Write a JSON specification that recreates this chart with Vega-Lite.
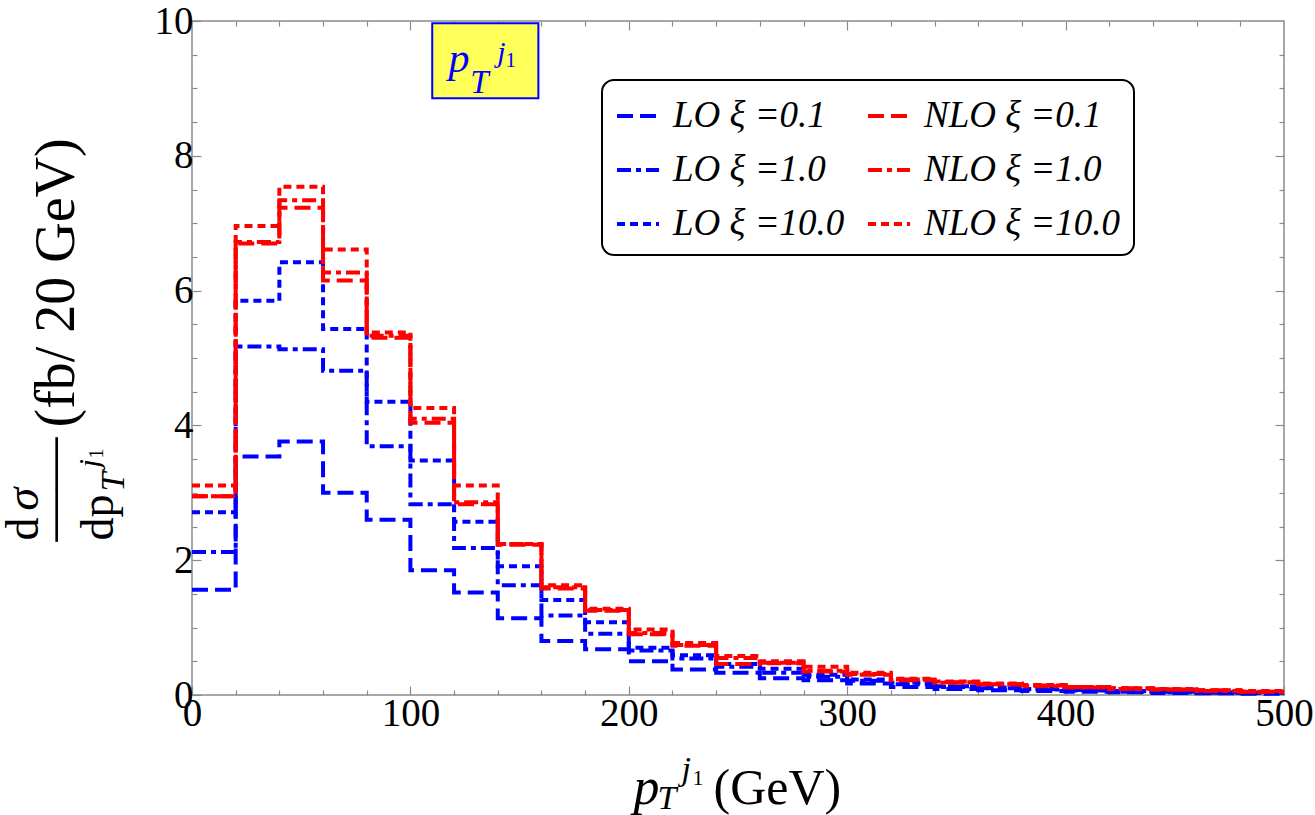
{
  "$schema": "https://vega.github.io/schema/vega-lite/v6.json",
  "autosize": {"type": "none"},
  "width": 1092,
  "height": 674,
  "padding": {"left": 192, "top": 21, "right": 31, "bottom": 120},
  "background": "white",
  "config": {
    "view": {"stroke": "#8a8a8a", "strokeWidth": 1.5},
    "legend": {"strokeWidth": 2},
    "axis": {"grid": false, "domain": false, "tickColor": "#8a8a8a", "tickWidth": 1.2, "labelFont": "Liberation Serif", "labelColor": "black", "titleFont": "Liberation Serif", "titleColor": "black"}
  },
  "data": {
    "values": [
      {"s": "LO ξ =0.1", "x0": 0, "x1": 20, "v": 1.56},
      {"s": "LO ξ =0.1", "x0": 20, "x1": 40, "v": 3.54},
      {"s": "LO ξ =0.1", "x0": 40, "x1": 60, "v": 3.76},
      {"s": "LO ξ =0.1", "x0": 60, "x1": 80, "v": 3.0},
      {"s": "LO ξ =0.1", "x0": 80, "x1": 100, "v": 2.6},
      {"s": "LO ξ =0.1", "x0": 100, "x1": 120, "v": 1.85},
      {"s": "LO ξ =0.1", "x0": 120, "x1": 140, "v": 1.52},
      {"s": "LO ξ =0.1", "x0": 140, "x1": 160, "v": 1.14},
      {"s": "LO ξ =0.1", "x0": 160, "x1": 180, "v": 0.8},
      {"s": "LO ξ =0.1", "x0": 180, "x1": 200, "v": 0.68},
      {"s": "LO ξ =0.1", "x0": 200, "x1": 220, "v": 0.5},
      {"s": "LO ξ =0.1", "x0": 220, "x1": 240, "v": 0.38},
      {"s": "LO ξ =0.1", "x0": 240, "x1": 260, "v": 0.33},
      {"s": "LO ξ =0.1", "x0": 260, "x1": 280, "v": 0.25},
      {"s": "LO ξ =0.1", "x0": 280, "x1": 300, "v": 0.22},
      {"s": "LO ξ =0.1", "x0": 300, "x1": 320, "v": 0.17},
      {"s": "LO ξ =0.1", "x0": 320, "x1": 340, "v": 0.12},
      {"s": "LO ξ =0.1", "x0": 340, "x1": 360, "v": 0.09},
      {"s": "LO ξ =0.1", "x0": 360, "x1": 380, "v": 0.07},
      {"s": "LO ξ =0.1", "x0": 380, "x1": 400, "v": 0.06},
      {"s": "LO ξ =0.1", "x0": 400, "x1": 420, "v": 0.05},
      {"s": "LO ξ =0.1", "x0": 420, "x1": 440, "v": 0.04},
      {"s": "LO ξ =0.1", "x0": 440, "x1": 460, "v": 0.03},
      {"s": "LO ξ =0.1", "x0": 460, "x1": 480, "v": 0.025},
      {"s": "LO ξ =0.1", "x0": 480, "x1": 500, "v": 0.02},
      {"s": "LO ξ =1.0", "x0": 0, "x1": 20, "v": 2.12},
      {"s": "LO ξ =1.0", "x0": 20, "x1": 40, "v": 5.17},
      {"s": "LO ξ =1.0", "x0": 40, "x1": 60, "v": 5.13},
      {"s": "LO ξ =1.0", "x0": 60, "x1": 80, "v": 4.81},
      {"s": "LO ξ =1.0", "x0": 80, "x1": 100, "v": 3.69},
      {"s": "LO ξ =1.0", "x0": 100, "x1": 120, "v": 2.83},
      {"s": "LO ξ =1.0", "x0": 120, "x1": 140, "v": 2.18},
      {"s": "LO ξ =1.0", "x0": 140, "x1": 160, "v": 1.63},
      {"s": "LO ξ =1.0", "x0": 160, "x1": 180, "v": 1.18},
      {"s": "LO ξ =1.0", "x0": 180, "x1": 200, "v": 0.91},
      {"s": "LO ξ =1.0", "x0": 200, "x1": 220, "v": 0.66},
      {"s": "LO ξ =1.0", "x0": 220, "x1": 240, "v": 0.54},
      {"s": "LO ξ =1.0", "x0": 240, "x1": 260, "v": 0.42},
      {"s": "LO ξ =1.0", "x0": 260, "x1": 280, "v": 0.33},
      {"s": "LO ξ =1.0", "x0": 280, "x1": 300, "v": 0.27},
      {"s": "LO ξ =1.0", "x0": 300, "x1": 320, "v": 0.21},
      {"s": "LO ξ =1.0", "x0": 320, "x1": 340, "v": 0.16},
      {"s": "LO ξ =1.0", "x0": 340, "x1": 360, "v": 0.12},
      {"s": "LO ξ =1.0", "x0": 360, "x1": 380, "v": 0.1},
      {"s": "LO ξ =1.0", "x0": 380, "x1": 400, "v": 0.08},
      {"s": "LO ξ =1.0", "x0": 400, "x1": 420, "v": 0.065},
      {"s": "LO ξ =1.0", "x0": 420, "x1": 440, "v": 0.05},
      {"s": "LO ξ =1.0", "x0": 440, "x1": 460, "v": 0.04},
      {"s": "LO ξ =1.0", "x0": 460, "x1": 480, "v": 0.035},
      {"s": "LO ξ =1.0", "x0": 480, "x1": 500, "v": 0.03},
      {"s": "LO ξ =10.0", "x0": 0, "x1": 20, "v": 2.71},
      {"s": "LO ξ =10.0", "x0": 20, "x1": 40, "v": 5.85},
      {"s": "LO ξ =10.0", "x0": 40, "x1": 60, "v": 6.42},
      {"s": "LO ξ =10.0", "x0": 60, "x1": 80, "v": 5.43},
      {"s": "LO ξ =10.0", "x0": 80, "x1": 100, "v": 4.35},
      {"s": "LO ξ =10.0", "x0": 100, "x1": 120, "v": 3.48},
      {"s": "LO ξ =10.0", "x0": 120, "x1": 140, "v": 2.57},
      {"s": "LO ξ =10.0", "x0": 140, "x1": 160, "v": 1.91},
      {"s": "LO ξ =10.0", "x0": 160, "x1": 180, "v": 1.41},
      {"s": "LO ξ =10.0", "x0": 180, "x1": 200, "v": 1.08},
      {"s": "LO ξ =10.0", "x0": 200, "x1": 220, "v": 0.7},
      {"s": "LO ξ =10.0", "x0": 220, "x1": 240, "v": 0.59},
      {"s": "LO ξ =10.0", "x0": 240, "x1": 260, "v": 0.46},
      {"s": "LO ξ =10.0", "x0": 260, "x1": 280, "v": 0.39},
      {"s": "LO ξ =10.0", "x0": 280, "x1": 300, "v": 0.3},
      {"s": "LO ξ =10.0", "x0": 300, "x1": 320, "v": 0.23},
      {"s": "LO ξ =10.0", "x0": 320, "x1": 340, "v": 0.18},
      {"s": "LO ξ =10.0", "x0": 340, "x1": 360, "v": 0.13},
      {"s": "LO ξ =10.0", "x0": 360, "x1": 380, "v": 0.11},
      {"s": "LO ξ =10.0", "x0": 380, "x1": 400, "v": 0.09},
      {"s": "LO ξ =10.0", "x0": 400, "x1": 420, "v": 0.075},
      {"s": "LO ξ =10.0", "x0": 420, "x1": 440, "v": 0.06},
      {"s": "LO ξ =10.0", "x0": 440, "x1": 460, "v": 0.05},
      {"s": "LO ξ =10.0", "x0": 460, "x1": 480, "v": 0.04},
      {"s": "LO ξ =10.0", "x0": 480, "x1": 500, "v": 0.035},
      {"s": "NLO ξ =0.1", "x0": 0, "x1": 20, "v": 2.95},
      {"s": "NLO ξ =0.1", "x0": 20, "x1": 40, "v": 6.7},
      {"s": "NLO ξ =0.1", "x0": 40, "x1": 60, "v": 7.23},
      {"s": "NLO ξ =0.1", "x0": 60, "x1": 80, "v": 6.15},
      {"s": "NLO ξ =0.1", "x0": 80, "x1": 100, "v": 5.3},
      {"s": "NLO ξ =0.1", "x0": 100, "x1": 120, "v": 4.04},
      {"s": "NLO ξ =0.1", "x0": 120, "x1": 140, "v": 2.83},
      {"s": "NLO ξ =0.1", "x0": 140, "x1": 160, "v": 2.23},
      {"s": "NLO ξ =0.1", "x0": 160, "x1": 180, "v": 1.58},
      {"s": "NLO ξ =0.1", "x0": 180, "x1": 200, "v": 1.25},
      {"s": "NLO ξ =0.1", "x0": 200, "x1": 220, "v": 0.9},
      {"s": "NLO ξ =0.1", "x0": 220, "x1": 240, "v": 0.73},
      {"s": "NLO ξ =0.1", "x0": 240, "x1": 260, "v": 0.46},
      {"s": "NLO ξ =0.1", "x0": 260, "x1": 280, "v": 0.48},
      {"s": "NLO ξ =0.1", "x0": 280, "x1": 300, "v": 0.35},
      {"s": "NLO ξ =0.1", "x0": 300, "x1": 320, "v": 0.3},
      {"s": "NLO ξ =0.1", "x0": 320, "x1": 340, "v": 0.22},
      {"s": "NLO ξ =0.1", "x0": 340, "x1": 360, "v": 0.19},
      {"s": "NLO ξ =0.1", "x0": 360, "x1": 380, "v": 0.16},
      {"s": "NLO ξ =0.1", "x0": 380, "x1": 400, "v": 0.14},
      {"s": "NLO ξ =0.1", "x0": 400, "x1": 420, "v": 0.12},
      {"s": "NLO ξ =0.1", "x0": 420, "x1": 440, "v": 0.1},
      {"s": "NLO ξ =0.1", "x0": 440, "x1": 460, "v": 0.08},
      {"s": "NLO ξ =0.1", "x0": 460, "x1": 480, "v": 0.07},
      {"s": "NLO ξ =0.1", "x0": 480, "x1": 500, "v": 0.05},
      {"s": "NLO ξ =1.0", "x0": 0, "x1": 20, "v": 2.95},
      {"s": "NLO ξ =1.0", "x0": 20, "x1": 40, "v": 6.72},
      {"s": "NLO ξ =1.0", "x0": 40, "x1": 60, "v": 7.34},
      {"s": "NLO ξ =1.0", "x0": 60, "x1": 80, "v": 6.27},
      {"s": "NLO ξ =1.0", "x0": 80, "x1": 100, "v": 5.33},
      {"s": "NLO ξ =1.0", "x0": 100, "x1": 120, "v": 4.1},
      {"s": "NLO ξ =1.0", "x0": 120, "x1": 140, "v": 2.86},
      {"s": "NLO ξ =1.0", "x0": 140, "x1": 160, "v": 2.24},
      {"s": "NLO ξ =1.0", "x0": 160, "x1": 180, "v": 1.6},
      {"s": "NLO ξ =1.0", "x0": 180, "x1": 200, "v": 1.26},
      {"s": "NLO ξ =1.0", "x0": 200, "x1": 220, "v": 0.92},
      {"s": "NLO ξ =1.0", "x0": 220, "x1": 240, "v": 0.74},
      {"s": "NLO ξ =1.0", "x0": 240, "x1": 260, "v": 0.55},
      {"s": "NLO ξ =1.0", "x0": 260, "x1": 280, "v": 0.47},
      {"s": "NLO ξ =1.0", "x0": 280, "x1": 300, "v": 0.36},
      {"s": "NLO ξ =1.0", "x0": 300, "x1": 320, "v": 0.31},
      {"s": "NLO ξ =1.0", "x0": 320, "x1": 340, "v": 0.23},
      {"s": "NLO ξ =1.0", "x0": 340, "x1": 360, "v": 0.18},
      {"s": "NLO ξ =1.0", "x0": 360, "x1": 380, "v": 0.16},
      {"s": "NLO ξ =1.0", "x0": 380, "x1": 400, "v": 0.13},
      {"s": "NLO ξ =1.0", "x0": 400, "x1": 420, "v": 0.11},
      {"s": "NLO ξ =1.0", "x0": 420, "x1": 440, "v": 0.09},
      {"s": "NLO ξ =1.0", "x0": 440, "x1": 460, "v": 0.08},
      {"s": "NLO ξ =1.0", "x0": 460, "x1": 480, "v": 0.06},
      {"s": "NLO ξ =1.0", "x0": 480, "x1": 500, "v": 0.05},
      {"s": "NLO ξ =10.0", "x0": 0, "x1": 20, "v": 3.11},
      {"s": "NLO ξ =10.0", "x0": 20, "x1": 40, "v": 6.96},
      {"s": "NLO ξ =10.0", "x0": 40, "x1": 60, "v": 7.54},
      {"s": "NLO ξ =10.0", "x0": 60, "x1": 80, "v": 6.61},
      {"s": "NLO ξ =10.0", "x0": 80, "x1": 100, "v": 5.38},
      {"s": "NLO ξ =10.0", "x0": 100, "x1": 120, "v": 4.26},
      {"s": "NLO ξ =10.0", "x0": 120, "x1": 140, "v": 3.11},
      {"s": "NLO ξ =10.0", "x0": 140, "x1": 160, "v": 2.24},
      {"s": "NLO ξ =10.0", "x0": 160, "x1": 180, "v": 1.63},
      {"s": "NLO ξ =10.0", "x0": 180, "x1": 200, "v": 1.28},
      {"s": "NLO ξ =10.0", "x0": 200, "x1": 220, "v": 0.97},
      {"s": "NLO ξ =10.0", "x0": 220, "x1": 240, "v": 0.77},
      {"s": "NLO ξ =10.0", "x0": 240, "x1": 260, "v": 0.58},
      {"s": "NLO ξ =10.0", "x0": 260, "x1": 280, "v": 0.5},
      {"s": "NLO ξ =10.0", "x0": 280, "x1": 300, "v": 0.42},
      {"s": "NLO ξ =10.0", "x0": 300, "x1": 320, "v": 0.33},
      {"s": "NLO ξ =10.0", "x0": 320, "x1": 340, "v": 0.24},
      {"s": "NLO ξ =10.0", "x0": 340, "x1": 360, "v": 0.2},
      {"s": "NLO ξ =10.0", "x0": 360, "x1": 380, "v": 0.17},
      {"s": "NLO ξ =10.0", "x0": 380, "x1": 400, "v": 0.15},
      {"s": "NLO ξ =10.0", "x0": 400, "x1": 420, "v": 0.12},
      {"s": "NLO ξ =10.0", "x0": 420, "x1": 440, "v": 0.1},
      {"s": "NLO ξ =10.0", "x0": 440, "x1": 460, "v": 0.09},
      {"s": "NLO ξ =10.0", "x0": 460, "x1": 480, "v": 0.07},
      {"s": "NLO ξ =10.0", "x0": 480, "x1": 500, "v": 0.06}
    ]
  },
  "resolve": {"axis": {"x": "independent", "y": "independent"}},
  "layer": [
    {
      "transform": [
        {"filter": "indexof(datum.s, 'NLO') < 0"},
        {"fold": ["x0", "x1"], "as": ["edge", "x"]}
      ],
      "mark": {"type": "line", "strokeWidth": 4, "interpolate": "linear"},
      "encoding": {
        "x": {"field": "x", "type": "quantitative", "scale": {"domain": [0, 500], "nice": false, "zero": false},
          "axis": {"orient": "bottom", "values": [0, 100, 200, 300, 400, 500], "tickSize": -9, "labelFontSize": 39, "labelPadding": 8, "labelFlush": false, "labelOverlap": false, "title": null}},
        "y": {"field": "v", "type": "quantitative", "scale": {"domain": [0, 10], "nice": false},
          "axis": {"orient": "left", "values": [0, 2, 4, 6, 8, 10], "tickSize": -9, "labelFontSize": 39, "labelPadding": 8, "labelFlush": false, "labelOverlap": false, "title": null}},
        "color": {"field": "s", "type": "nominal",
          "scale": {"domain": ["LO ξ =0.1", "LO ξ =1.0", "LO ξ =10.0", "NLO ξ =0.1", "NLO ξ =1.0", "NLO ξ =10.0"],
                    "range": ["#0000ff", "#0000ff", "#0000ff", "#ff0000", "#ff0000", "#ff0000"]},
          "legend": {"title": null, "orient": "none", "legendX": 410, "legendY": 59, "columns": 2, "symbolType": "stroke", "symbolSize": 1764, "symbolStrokeWidth": 4,
            "labelFont": "Liberation Serif", "labelFontSize": 37, "labelFontStyle": "italic", "labelColor": "black", "labelOffset": 12, "labelLimit": 400,
            "fillColor": "white", "strokeColor": "black", "cornerRadius": 12, "padding": 13, "rowPadding": 13, "columnPadding": 15}},
        "strokeDash": {"field": "s", "type": "nominal",
          "scale": {"domain": ["LO ξ =0.1", "LO ξ =1.0", "LO ξ =10.0", "NLO ξ =0.1", "NLO ξ =1.0", "NLO ξ =10.0"],
                    "range": [[16, 7], [14, 5, 5, 5], [8, 5], [16, 7], [14, 5, 5, 5], [8, 5]]},
          "legend": {"title": null, "orient": "none", "legendX": 410, "legendY": 59, "columns": 2, "symbolType": "stroke", "symbolSize": 1764, "symbolStrokeWidth": 4,
            "labelFont": "Liberation Serif", "labelFontSize": 37, "labelFontStyle": "italic", "labelColor": "black", "labelOffset": 12, "labelLimit": 400,
            "fillColor": "white", "strokeColor": "black", "cornerRadius": 12, "padding": 13, "rowPadding": 13, "columnPadding": 15}},
        "order": {"value": null}
      }
    },
    {
      "transform": [
        {"filter": "indexof(datum.s, 'NLO') >= 0"},
        {"fold": ["x0", "x1"], "as": ["edge", "x"]}
      ],
      "mark": {"type": "line", "strokeWidth": 4, "interpolate": "linear"},
      "encoding": {
        "x": {"field": "x", "type": "quantitative", "axis": null},
        "y": {"field": "v", "type": "quantitative", "axis": null},
        "color": {"field": "s", "type": "nominal"},
        "strokeDash": {"field": "s", "type": "nominal"},
        "order": {"value": null}
      }
    },
    {
      "mark": {"type": "point", "opacity": 0},
      "encoding": {
        "x": {"field": "x0", "type": "quantitative", "axis": {"orient": "bottom", "values": [20, 40, 60, 80, 120, 140, 160, 180, 220, 240, 260, 280, 320, 340, 360, 380, 420, 440, 460, 480], "tickSize": -5, "labels": false, "title": null}},
        "y": {"field": "v", "type": "quantitative", "axis": {"orient": "left", "values": [0.5, 1, 1.5, 2.5, 3, 3.5, 4.5, 5, 5.5, 6.5, 7, 7.5, 8.5, 9, 9.5], "tickSize": -5, "labels": false, "title": null}}
      }
    },
    {
      "mark": {"type": "point", "opacity": 0},
      "encoding": {
        "x": {"field": "x0", "type": "quantitative", "axis": {"orient": "top", "values": [100, 200, 300, 400], "tickSize": -9, "labels": false, "title": null}},
        "y": {"field": "v", "type": "quantitative", "axis": {"orient": "right", "values": [2, 4, 6, 8], "tickSize": -9, "labels": false, "title": null}}
      }
    },
    {
      "mark": {"type": "point", "opacity": 0},
      "encoding": {
        "x": {"field": "x0", "type": "quantitative", "axis": {"orient": "top", "values": [20, 40, 60, 80, 120, 140, 160, 180, 220, 240, 260, 280, 320, 340, 360, 380, 420, 440, 460, 480], "tickSize": -5, "labels": false, "title": null}},
        "y": {"field": "v", "type": "quantitative", "axis": {"orient": "right", "values": [0.5, 1, 1.5, 2.5, 3, 3.5, 4.5, 5, 5.5, 6.5, 7, 7.5, 8.5, 9, 9.5], "tickSize": -5, "labels": false, "title": null}}
      }
    },
    {
      "mark": {"type": "point", "opacity": 0},
      "encoding": {
        "x": {"field": "x0", "type": "quantitative", "axis": {"orient": "bottom", "ticks": false, "labels": false, "title": "p", "titleFontSize": 52, "titleFontStyle": "italic", "titleFontWeight": "normal", "titleX": 441, "titleY": 108, "titleAlign": "left", "titleBaseline": "alphabetic", "titleAngle": 0}},
        "y": {"field": "v", "type": "quantitative", "axis": {"orient": "left", "ticks": false, "labels": false, "title": "d", "titleFontSize": 46, "titleFontWeight": "normal", "titleX": -155, "titleY": 519, "titleAlign": "left", "titleBaseline": "alphabetic", "titleAngle": 270}}
      }
    },
    {
      "mark": {"type": "point", "opacity": 0},
      "encoding": {
        "x": {"field": "x0", "type": "quantitative", "axis": {"orient": "bottom", "ticks": false, "labels": false, "title": "T", "titleFontSize": 34, "titleFontStyle": "italic", "titleFontWeight": "normal", "titleX": 465, "titleY": 113, "titleAlign": "left", "titleBaseline": "alphabetic", "titleAngle": 0}},
        "y": {"field": "v", "type": "quantitative", "axis": {"orient": "left", "ticks": false, "labels": false, "title": "σ", "titleFontSize": 46, "titleFontStyle": "italic", "titleFontWeight": "normal", "titleX": -155, "titleY": 489, "titleAlign": "left", "titleBaseline": "alphabetic", "titleAngle": 270}}
      }
    },
    {
      "mark": {"type": "point", "opacity": 0},
      "encoding": {
        "x": {"field": "x0", "type": "quantitative", "axis": {"orient": "bottom", "ticks": false, "labels": false, "title": "j", "titleFontSize": 34, "titleFontStyle": "italic", "titleFontWeight": "normal", "titleX": 489, "titleY": 84, "titleAlign": "left", "titleBaseline": "alphabetic", "titleAngle": 0}},
        "y": {"field": "v", "type": "quantitative", "axis": {"orient": "left", "ticks": false, "labels": false, "title": "——", "titleFontSize": 52, "titleFontWeight": "normal", "titleX": -124, "titleY": 520, "titleAlign": "left", "titleBaseline": "alphabetic", "titleAngle": 270}}
      }
    },
    {
      "mark": {"type": "point", "opacity": 0},
      "encoding": {
        "x": {"field": "x0", "type": "quantitative", "axis": {"orient": "bottom", "ticks": false, "labels": false, "title": "1", "titleFontSize": 22, "titleFontWeight": "normal", "titleX": 500, "titleY": 89, "titleAlign": "left", "titleBaseline": "alphabetic", "titleAngle": 0}},
        "y": {"field": "v", "type": "quantitative", "axis": {"orient": "left", "ticks": false, "labels": false, "title": "dp", "titleFontSize": 46, "titleFontWeight": "normal", "titleX": -80, "titleY": 519, "titleAlign": "left", "titleBaseline": "alphabetic", "titleAngle": 270}}
      }
    },
    {
      "mark": {"type": "point", "opacity": 0},
      "encoding": {
        "x": {"field": "x0", "type": "quantitative", "axis": {"orient": "bottom", "ticks": false, "labels": false, "title": "(GeV)", "titleFontSize": 50, "titleFontWeight": "normal", "titleX": 521, "titleY": 108, "titleAlign": "left", "titleBaseline": "alphabetic", "titleAngle": 0}},
        "y": {"field": "v", "type": "quantitative", "axis": {"orient": "left", "ticks": false, "labels": false, "title": "T", "titleFontSize": 34, "titleFontStyle": "italic", "titleFontWeight": "normal", "titleX": -69, "titleY": 470, "titleAlign": "left", "titleBaseline": "alphabetic", "titleAngle": 270}}
      }
    },
    {
      "mark": {"type": "point", "opacity": 0},
      "encoding": {
        "x": {"field": "x0", "type": "quantitative", "axis": null},
        "y": {"field": "v", "type": "quantitative", "axis": {"orient": "left", "ticks": false, "labels": false, "title": "j", "titleFontSize": 30, "titleFontStyle": "italic", "titleFontWeight": "normal", "titleX": -94, "titleY": 446, "titleAlign": "left", "titleBaseline": "alphabetic", "titleAngle": 270}}
      }
    },
    {
      "mark": {"type": "point", "opacity": 0},
      "encoding": {
        "x": {"field": "x0", "type": "quantitative", "axis": null},
        "y": {"field": "v", "type": "quantitative", "axis": {"orient": "left", "ticks": false, "labels": false, "title": "1", "titleFontSize": 20, "titleFontWeight": "normal", "titleX": -90, "titleY": 437, "titleAlign": "left", "titleBaseline": "alphabetic", "titleAngle": 270}}
      }
    },
    {
      "mark": {"type": "point", "opacity": 0},
      "encoding": {
        "x": {"field": "x0", "type": "quantitative", "axis": null},
        "y": {"field": "v", "type": "quantitative", "axis": {"orient": "left", "ticks": false, "labels": false, "title": "(fb/ 20 GeV)", "titleFontSize": 56, "titleFontWeight": "normal", "titleX": -119, "titleY": 406, "titleAlign": "left", "titleBaseline": "alphabetic", "titleAngle": 270}}
      }
    },
    {
      "data": {"values": [{}]},
      "mark": {"type": "rect", "fill": "#ffff5a", "stroke": "#0000ff", "strokeWidth": 2},
      "encoding": {
        "x": {"datum": 110, "type": "quantitative", "axis": null},
        "x2": {"datum": 158.6},
        "y": {"datum": 8.853, "type": "quantitative", "axis": null},
        "y2": {"datum": 9.966}
      }
    },
    {
      "data": {"values": [{}]},
      "mark": {"type": "text", "text": "p", "font": "Liberation Serif", "fontStyle": "italic", "fontSize": 42, "color": "#0000ff", "align": "left", "baseline": "alphabetic"},
      "encoding": {
        "x": {"datum": 117.4, "type": "quantitative", "axis": null},
        "y": {"datum": 9.246, "type": "quantitative", "axis": null}
      }
    },
    {
      "data": {"values": [{}]},
      "mark": {"type": "text", "text": "T", "font": "Liberation Serif", "fontStyle": "italic", "fontSize": 33, "color": "#0000ff", "align": "left", "baseline": "alphabetic"},
      "encoding": {
        "x": {"datum": 127.4, "type": "quantitative", "axis": null},
        "y": {"datum": 8.927, "type": "quantitative", "axis": null}
      }
    },
    {
      "data": {"values": [{}]},
      "mark": {"type": "text", "text": "j", "font": "Liberation Serif", "fontStyle": "italic", "fontSize": 30, "color": "#0000ff", "align": "left", "baseline": "alphabetic"},
      "encoding": {
        "x": {"datum": 139.8, "type": "quantitative", "axis": null},
        "y": {"datum": 9.387, "type": "quantitative", "axis": null}
      }
    },
    {
      "data": {"values": [{}]},
      "mark": {"type": "text", "text": "1", "font": "Liberation Serif", "fontSize": 21, "color": "#0000ff", "align": "left", "baseline": "alphabetic"},
      "encoding": {
        "x": {"datum": 143.6, "type": "quantitative", "axis": null},
        "y": {"datum": 9.313, "type": "quantitative", "axis": null}
      }
    }
  ]
}
